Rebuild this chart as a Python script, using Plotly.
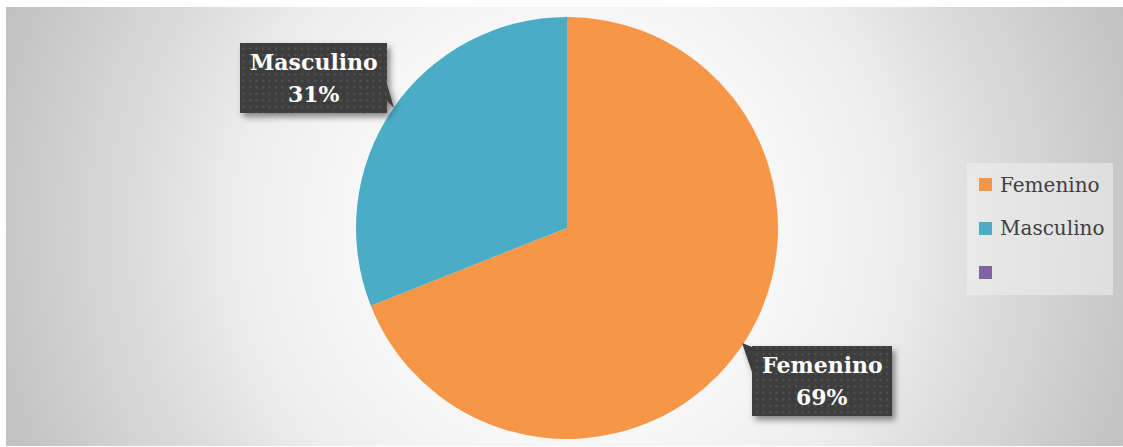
import base64
import plotly.graph_objects as go

# ---- data -------------------------------------------------------------
categories = ["Femenino", "Masculino", ""]
percentages = [69, 31, 0]
slice_colors = ["#F79646", "#4BACC6", "#8064A2"]

# ---- canvas -----------------------------------------------------------
W, H = 1123, 447
FRAME = (6, 7, 1123, 446)          # left, top, right, bottom of the grey panel
PIE_CX, PIE_CY, PIE_R = 567, 228, 211

# callout boxes (left, top, right, bottom) and pointer polygons, in pixels
CALLOUTS = {
    "Masculino": {"box": (240, 43, 387, 113),
                  "ptr": [(387, 84), (394, 108), (387, 101)]},
    "Femenino": {"box": (752, 346, 892, 416),
                 "ptr": [(752, 347), (742, 343), (752, 372)]},
}
LABEL_FONT = dict(family="DejaVu Serif", size=22, color="#FFFFFF")
LABEL_LINE_GAP = 32

# legend block
LEG_BOX = (967, 163, 1113, 295)
LEG_SWATCH_X, LEG_SWATCH = 979, 13
LEG_FIRST_CY, LEG_STEP = 184.5, 44
LEG_TEXT_X = 998
LEG_FONT = dict(family="DejaVu Serif", size=20, color="#404040")


def px(x):
    return x / W


def py(y):
    return 1 - y / H


def svg_uri(svg):
    return "data:image/svg+xml;base64," + base64.b64encode(svg.encode()).decode()


# radial shading behind the chart
l, t, r, b = FRAME
background_svg = f"""<svg xmlns='http://www.w3.org/2000/svg' width='{W}' height='{H}' viewBox='0 0 {W} {H}' preserveAspectRatio='none'>
<defs><radialGradient id='g' gradientUnits='userSpaceOnUse' cx='{PIE_CX}' cy='{PIE_CY}' r='600'>
<stop offset='0' stop-color='#ffffff'/><stop offset='0.33' stop-color='#f8f8f8'/>
<stop offset='0.55' stop-color='#ededed'/><stop offset='0.67' stop-color='#e0e0e0'/>
<stop offset='0.92' stop-color='#c8c8c8'/><stop offset='1' stop-color='#c1c1c1'/>
</radialGradient></defs>
<rect x='0' y='0' width='{W}' height='{H}' fill='#ffffff'/>
<rect x='{l}' y='{t}' width='{r - l}' height='{b - t}' fill='url(#g)'/>
</svg>"""

# dark dotted callout boxes with a soft shadow
parts = []
for spec in CALLOUTS.values():
    x0, y0, x1, y1 = spec["box"]
    pts = " ".join(f"{x},{y}" for x, y in spec["ptr"])
    parts.append(
        f"<g filter='url(#sh)'><rect x='{x0}' y='{y0}' width='{x1 - x0}' height='{y1 - y0}' fill='#3d3d3d'/>"
        f"<polygon points='{pts}' fill='#3d3d3d'/></g>"
        f"<rect x='{x0}' y='{y0}' width='{x1 - x0}' height='{y1 - y0}' fill='url(#dots)'/>"
    )
callout_svg = f"""<svg xmlns='http://www.w3.org/2000/svg' width='{W}' height='{H}' viewBox='0 0 {W} {H}' preserveAspectRatio='none'>
<defs>
<filter id='sh' x='-20%' y='-20%' width='150%' height='160%'><feDropShadow dx='3' dy='4' stdDeviation='3' flood-color='#000' flood-opacity='0.45'/></filter>
<pattern id='dots' width='6.5' height='6.5' patternUnits='userSpaceOnUse'><rect x='2' y='2' width='2' height='2' fill='#545454'/></pattern>
</defs>
{''.join(parts)}
</svg>"""

fig = go.Figure(
    go.Pie(
        labels=categories,
        values=percentages,
        marker=dict(colors=slice_colors, line=dict(width=0)),
        sort=False,
        direction="clockwise",
        rotation=0,
        textinfo="none",
        showlegend=False,
        domain=dict(x=[px(PIE_CX - PIE_R), px(PIE_CX + PIE_R)],
                    y=[py(PIE_CY + PIE_R), py(PIE_CY - PIE_R)]),
    )
)

annotations = []
shapes = []

# value labels inside the callouts
for name, pct in zip(categories, percentages):
    if name not in CALLOUTS:
        continue
    x0, y0, x1, y1 = CALLOUTS[name]["box"]
    cx, cy = (x0 + x1) / 2, (y0 + y1) / 2
    for text, dy in ((f"<b>{name}</b>", -LABEL_LINE_GAP / 2), (f"<b>{pct}%</b>", LABEL_LINE_GAP / 2)):
        annotations.append(dict(
            x=px(cx), y=py(cy + dy), xref="paper", yref="paper",
            text=text, showarrow=False, xanchor="center", yanchor="middle",
            font=LABEL_FONT,
        ))

# legend panel
lx0, ly0, lx1, ly1 = LEG_BOX
shapes.append(dict(type="rect", xref="paper", yref="paper",
                   x0=px(lx0), x1=px(lx1), y0=py(ly1), y1=py(ly0),
                   fillcolor="rgba(240,240,240,0.55)", line=dict(width=0), layer="above"))
for i, (name, color) in enumerate(zip(categories, slice_colors)):
    cy = LEG_FIRST_CY + i * LEG_STEP
    shapes.append(dict(type="rect", xref="paper", yref="paper",
                       x0=px(LEG_SWATCH_X), x1=px(LEG_SWATCH_X + LEG_SWATCH),
                       y0=py(cy + LEG_SWATCH / 2), y1=py(cy - LEG_SWATCH / 2),
                       fillcolor=color, line=dict(width=0), layer="above"))
    if name:
        annotations.append(dict(
            x=px(LEG_TEXT_X), y=py(cy), xref="paper", yref="paper",
            text=name, showarrow=False, xanchor="left", yanchor="middle",
            font=LEG_FONT,
        ))

fig.update_layout(
    width=W, height=H,
    margin=dict(l=0, r=0, t=0, b=0),
    paper_bgcolor="#ffffff",
    plot_bgcolor="rgba(0,0,0,0)",
    showlegend=False,
    annotations=annotations,
    shapes=shapes,
    images=[
        dict(source=svg_uri(background_svg), xref="paper", yref="paper",
             x=0, y=1, sizex=1, sizey=1, xanchor="left", yanchor="top",
             sizing="stretch", layer="below"),
        dict(source=svg_uri(callout_svg), xref="paper", yref="paper",
             x=0, y=1, sizex=1, sizey=1, xanchor="left", yanchor="top",
             sizing="stretch", layer="above"),
    ],
)

fig.write_html("out.html")
